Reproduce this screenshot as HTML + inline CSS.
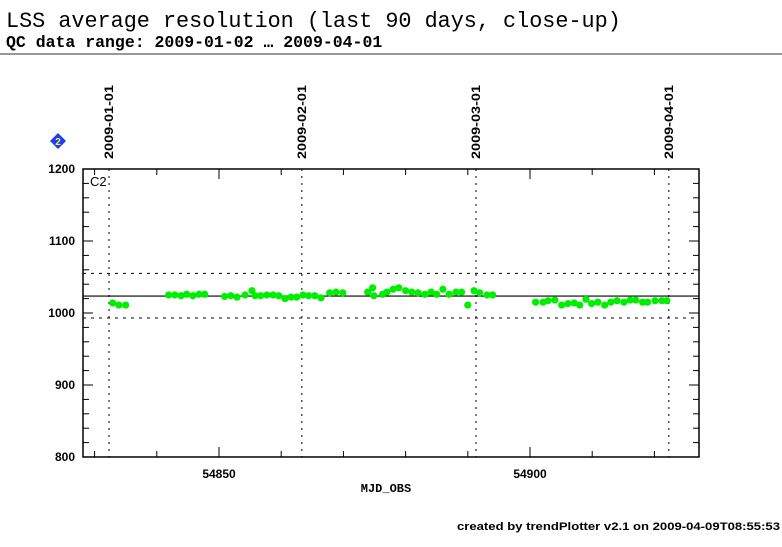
<!DOCTYPE html>
<html><head><meta charset="utf-8"><style>
body{margin:0;background:#fff;width:782px;height:542px;overflow:hidden;font-family:"Liberation Sans",sans-serif}
</style></head><body>
<svg width="782" height="542" xmlns="http://www.w3.org/2000/svg">
<text x="6" y="27" font-family="Liberation Mono, monospace" font-size="21.8">LSS average resolution (last 90 days, close-up)</text>
<text x="6" y="47" font-family="Liberation Mono, monospace" font-size="16.5" font-weight="bold">QC data range: 2009-01-02 … 2009-04-01</text>
<line x1="0" y1="54" x2="782" y2="54" stroke="#777" stroke-width="1.5"/>
<g id="plot"></g>
<text x="457" y="530" font-size="11" font-weight="bold" textLength="323" lengthAdjust="spacingAndGlyphs">created by trendPlotter v2.1 on 2009-04-09T08:55:53</text>
</svg>
<script>
const mjd=[54832.9,54833.9,54835.0,54841.9,54842.9,54843.9,54844.8,54845.8,54846.8,54847.7,54850.9,54851.9,54852.9,54854.2,54855.3,54855.8,54856.7,54857.7,54858.7,54859.6,54860.6,54861.6,54862.5,54863.5,54864.4,54865.4,54866.4,54867.8,54868.8,54869.9,54873.9,54874.7,54874.9,54876.3,54877.0,54878.0,54878.9,54880.0,54881.0,54882.0,54883.1,54884.1,54885.0,54886.0,54887.0,54888.1,54889.0,54890.0,54891.0,54891.9,54893.1,54894.0,54900.9,54902.1,54902.9,54904.0,54905.1,54906.1,54907.1,54908.0,54909.0,54909.9,54910.9,54912.0,54913.0,54914.0,54915.1,54916.1,54917.0,54918.1,54918.9,54920.1,54921.2,54922.0];
const res=[1014,1011,1011,1025,1025,1024,1026,1024,1026,1026,1023,1024,1022,1025,1031,1024,1024,1025,1025,1024,1020,1022,1022,1025,1024,1024,1021,1028,1029,1028,1029,1035,1024,1026,1029,1033,1035,1031,1029,1028,1026,1029,1026,1033,1026,1029,1029,1011,1031,1028,1025,1025,1015,1015,1017,1018,1011,1013,1014,1011,1019,1013,1015,1011,1015,1017,1015,1018,1018,1015,1015,1017,1017,1017];
const meanVal=[1023.5];
const limits=[1055,993];
const xTickLabels=[54850,54900];
const yTickLabels=[800,900,1000,1100,1200];
const dateLabels=["2009-01-01","2009-02-01","2009-03-01","2009-04-01"];
const dateMjd=[54832,54863,54891,54922];

const L=83,R=699,T=169,B=457;
const X=m=>219+(m-54850)*6.22;
const Y=v=>B-(v-800)*(B-T)/400;
const NS="http://www.w3.org/2000/svg";
const g=document.getElementById('plot');
function mk(t,a,p){const e=document.createElementNS(NS,t);for(const k in a)e.setAttribute(k,a[k]);(p||g).appendChild(e);return e;}

const fr=mk('rect',{x:L,y:T,width:R-L,height:B-T,fill:'none',stroke:'#000','stroke-width':1.5});



for(let m=54830;m<=54925;m+=10){const x=X(m);if(x<L||x>R)continue;const major=(m%50===0);
 const t1=mk('line',{x1:x,y1:B,x2:x,y2:B-(major?10:6),stroke:'#000'});
 
 
 const t2=mk('line',{x1:x,y1:T,x2:x,y2:T+(major?10:6),stroke:'#000'});
 
 }
xTickLabels.forEach(v=>{const t=mk('text',{x:X(v),y:B+21,'font-size':12,'font-weight':'bold','text-anchor':'middle'});t.textContent=v;
 
 });
const xt=mk('text',{x:386,y:B+35,'font-size':12,'font-weight':'bold','text-anchor':'middle','font-family':'Liberation Mono, monospace'});xt.textContent='MJD_OBS';



for(let v=800;v<=1200;v+=20){const y=Y(v);const major=(v%100===0);
 const t1=mk('line',{x1:L,y1:y,x2:L+(major?10:6),y2:y,stroke:'#000'});
 
 
 const t2=mk('line',{x1:R,y1:y,x2:R-(major?10:6),y2:y,stroke:'#000'});
 
 }
yTickLabels.forEach(v=>{const t=mk('text',{x:L-8,y:Y(v)+4,'font-size':12,'font-weight':'bold','text-anchor':'end'});t.textContent=v;
 
 });

dateMjd.forEach((m,i)=>{const x=X(m)+2;
 const l=mk('line',{x1:x,y1:T,x2:x,y2:B,stroke:'#000','stroke-dasharray':'2,5'});
 
 
 const t=mk('text',{x:0,y:0,'font-size':12,'font-weight':'bold','text-anchor':'start',textLength:74,lengthAdjust:'spacingAndGlyphs',transform:`translate(${x+4},${T-10}) rotate(-90)`});t.textContent=dateLabels[i];
 
 });

limits.forEach(v=>{const l=mk('line',{x1:L,y1:Y(v),x2:R,y2:Y(v),stroke:'#000','stroke-dasharray':'3,5'});
 
 });
const ml=mk('line',{x1:L,y1:Y(meanVal[0]),x2:R,y2:Y(meanVal[0]),stroke:'#000','stroke-width':1.2});



mjd.forEach((m,i)=>{const c=mk('circle',{cx:X(m),cy:Y(res[i]),r:3.6,fill:'#00ee00'});
 
 });

const c2=mk('text',{x:L+7,y:T+17,'font-size':13});c2.textContent='C2';


const bd=mk('g',{});


mk('polygon',{points:'58,133 66,141 58,149 50,141',fill:'#1a3cff'},bd);
const bt=mk('text',{x:58,y:145,'font-size':10,'font-weight':'bold',fill:'#ffff00','text-anchor':'middle'},bd);bt.textContent='2';
</script>
</body></html>
